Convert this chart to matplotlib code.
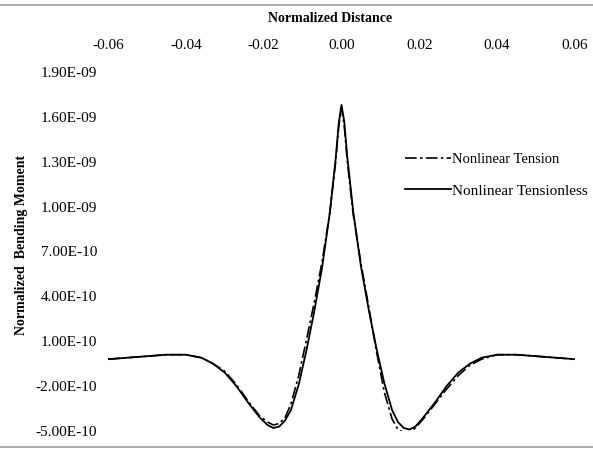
import matplotlib
matplotlib.use("Agg")
import matplotlib.pyplot as plt
from matplotlib.lines import Line2D

plt.rcParams['font.family'] = ['Liberation Serif', 'DejaVu Serif']

# Normalized distance positions
distance = [-0.060, -0.055, -0.050, -0.045, -0.040, -0.036, -0.033, -0.030, -0.027,
            -0.024, -0.021, -0.019, -0.0175, -0.016, -0.0145, -0.013, -0.011, -0.009,
            -0.007, -0.005, -0.003, -0.0015, -0.0007, 0.0, 0.0007, 0.0015, 0.003,
            0.005, 0.007, 0.009, 0.011, 0.013, 0.0145, 0.016, 0.0175, 0.019, 0.021,
            0.024, 0.027, 0.030, 0.033, 0.036, 0.040, 0.045, 0.050, 0.055, 0.060]

# Normalized bending moment (x 1e-10)
tensionless = [-0.2, -0.1, 0.0, 0.1, 0.1, -0.1, -0.5, -1.1, -2.0,
               -3.1, -4.1, -4.6, -4.8, -4.7, -4.3, -3.6, -1.9, 0.4,
               3.0, 5.9, 9.6, 13.2, 15.6, 16.8, 15.7, 13.3, 9.7,
               6.0, 3.1, 0.5, -1.8, -3.6, -4.4, -4.8, -4.9, -4.7, -4.1,
               -3.1, -2.0, -1.1, -0.5, -0.1, 0.1, 0.1, 0.0, -0.1, -0.2]

tension = [-0.2, -0.1, 0.0, 0.1, 0.1, -0.1, -0.5, -1.0, -1.9,
           -3.0, -4.0, -4.4, -4.6, -4.5, -4.1, -3.2, -1.3, 1.1,
           3.6, 6.3, 9.6, 13.0, 15.4, 16.6, 15.4, 13.0, 9.5,
           6.2, 3.3, 0.3, -2.4, -4.2, -4.9, -5.1, -5.1, -4.8, -4.2,
           -3.2, -2.2, -1.3, -0.6, -0.2, 0.1, 0.1, 0.0, -0.1, -0.2]

x_ticks = [-0.06, -0.04, -0.02, 0.00, 0.02, 0.04, 0.06]
x_tick_labels = ['-0.06', '-0.04', '-0.02', '0.00', '0.02', '0.04', '0.06']
y_ticks = [1.9e-9, 1.6e-9, 1.3e-9, 1.0e-9, 7.0e-10, 4.0e-10, 1.0e-10, -2.0e-10, -5.0e-10]
y_tick_labels = ['1.90E-09', '1.60E-09', '1.30E-09', '1.00E-09', '7.00E-10',
                 '4.00E-10', '1.00E-10', '-2.00E-10', '-5.00E-10']

fig = plt.figure(figsize=(5.93, 4.5), dpi=100)
ax = fig.add_axes([108/593, 1 - 431/450, (575-108)/593, (431-72)/450])

tension_vals = [v * 1e-10 for v in tension]
tensionless_vals = [v * 1e-10 for v in tensionless]

l1, = ax.plot(distance, tension_vals, color='black', lw=1.2,
              dashes=(7, 2, 1.5, 2), label='Nonlinear Tension')
l2, = ax.plot(distance, tensionless_vals, color='black', lw=1.3,
              label='Nonlinear Tensionless')

ax.set_xlim(-0.06, 0.06)
ax.set_ylim(-5e-10, 1.9e-9)
ax.set_xticks(x_ticks)
ax.set_xticklabels(x_tick_labels)
ax.set_yticks(y_ticks)
ax.set_yticklabels(y_tick_labels)
ax.xaxis.tick_top()
ax.xaxis.set_label_position('top')
ax.tick_params(axis='both', length=0, labelsize=11)
ax.tick_params(axis='x', pad=14.5)
ax.tick_params(axis='y', pad=8)
for s in ax.spines.values():
    s.set_visible(False)

fig.text(330/593, 1 - 18/450, 'Normalized Distance', ha='center', va='center',
         fontsize=10, fontweight='bold')
fig.text(22/593, 1 - 245/450, 'Normalized  Bending Moment', ha='center', va='center',
         rotation=90, fontsize=10, fontweight='bold')

leg = ax.legend(handles=[l1, l2], loc='upper left',
                bbox_to_anchor=((391-108)/467, (431-139)/359),
                frameon=False, handlelength=3.0, handletextpad=0.1,
                labelspacing=1.15, fontsize=11)
texts = leg.get_texts()
texts[0].set_fontsize(10.5)
texts[1].set_fontsize(11)

fig.add_artist(Line2D([0, 1], [1 - 5/450, 1 - 5/450], color='#a0a0a0', lw=1.2))
fig.add_artist(Line2D([0, 1], [1 - 447/450, 1 - 447/450], color='#a0a0a0', lw=1.2))

fig.savefig('out.png', dpi=100)
